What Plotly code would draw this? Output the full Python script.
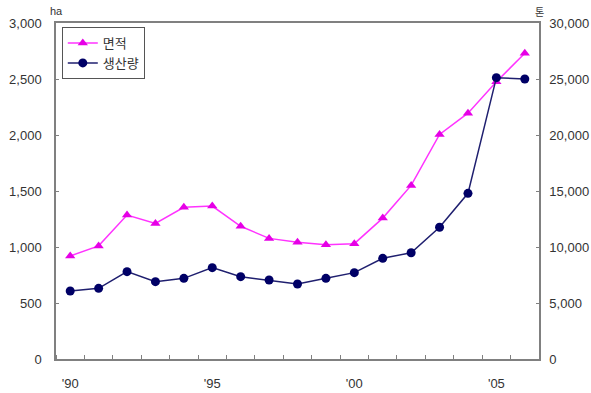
import plotly.graph_objects as go

years = list(range(1990, 2007))
area_ha = [920, 1010, 1285, 1210, 1355, 1365, 1185, 1077, 1042, 1020, 1030,
           1258, 1550, 2005, 2195, 2475, 2730]
production_ton = [6070, 6310, 7800, 6905, 7200, 8155, 7350, 7054, 6700, 7200, 7710,
                  8990, 9490, 11760, 14790, 25120, 25000]
year_ticks = [1990, 1995, 2000, 2005]
year_labels = ["'90", "'95", "'00", "'05"]
left_ticks = [0, 500, 1000, 1500, 2000, 2500, 3000]
right_ticks = [0, 5000, 10000, 15000, 20000, 25000, 30000]

axis_color = "#808080"
text_color = "#333333"
font_family = "Liberation Sans, Arial, Noto Sans CJK KR, sans-serif"

fig = go.Figure()
fig.add_trace(go.Scatter(
    x=years, y=area_ha, name="면적", mode="lines+markers",
    line=dict(color="#FF33FF", width=1.5),
    marker=dict(symbol="triangle-up", size=9, color="#E600E6"),
    yaxis="y",
))
fig.add_trace(go.Scatter(
    x=years, y=production_ton, name="생산량", mode="lines+markers",
    line=dict(color="#1F1F6F", width=1.5),
    marker=dict(symbol="circle", size=9, color="#000066"),
    yaxis="y2",
))

fig.update_layout(
    width=591, height=393,
    margin=dict(l=56, r=52, t=23, b=34, autoexpand=False),
    plot_bgcolor="white", paper_bgcolor="white",
    font=dict(family=font_family, size=13, color=text_color),
    showlegend=True,
    legend=dict(
        x=0.012, y=0.988, xanchor="left", yanchor="top",
        bordercolor="#555555", borderwidth=1, bgcolor="white",
        font=dict(size=13, color=text_color),
        tracegroupgap=0, itemwidth=30,
    ),
    xaxis=dict(
        range=[1989.5, 2006.5], automargin=False,
        tickmode="array", tickvals=year_ticks, ticktext=year_labels,
        ticks="", showgrid=False, zeroline=False,
        showline=True, linecolor=axis_color, linewidth=1.5, mirror=True,
        ticklabelstandoff=12,
        minor=dict(tick0=1989.5, dtick=1, ticks="inside", ticklen=4,
                   tickcolor=axis_color, tickwidth=1, showgrid=False),
    ),
    yaxis=dict(
        range=[0, 3000], tickmode="array", tickvals=left_ticks, automargin=False,
        tickformat=",", ticks="inside", ticklen=3, tickcolor=axis_color,
        showgrid=False, zeroline=False,
        showline=True, linecolor=axis_color, linewidth=1.5,
        ticklabelstandoff=10,
    ),
    yaxis2=dict(
        range=[0, 30000], tickmode="array", tickvals=right_ticks, automargin=False,
        tickformat=",", ticks="inside", ticklen=3, tickcolor=axis_color,
        overlaying="y", side="right", showgrid=False, zeroline=False,
        showline=True, linecolor=axis_color, linewidth=1.5,
        ticklabelstandoff=6,
    ),
    annotations=[
        dict(text="ha", xref="paper", yref="paper", x=0, y=1, yshift=4,
             xanchor="center", yanchor="bottom", showarrow=False,
             font=dict(size=11, color=text_color)),
        dict(text="톤", xref="paper", yref="paper", x=1, y=1, yshift=2,
             xanchor="center", yanchor="bottom", showarrow=False,
             font=dict(size=10, color=text_color, family="Noto Sans CJK KR")),
    ],
)

fig.write_html("out.html")
